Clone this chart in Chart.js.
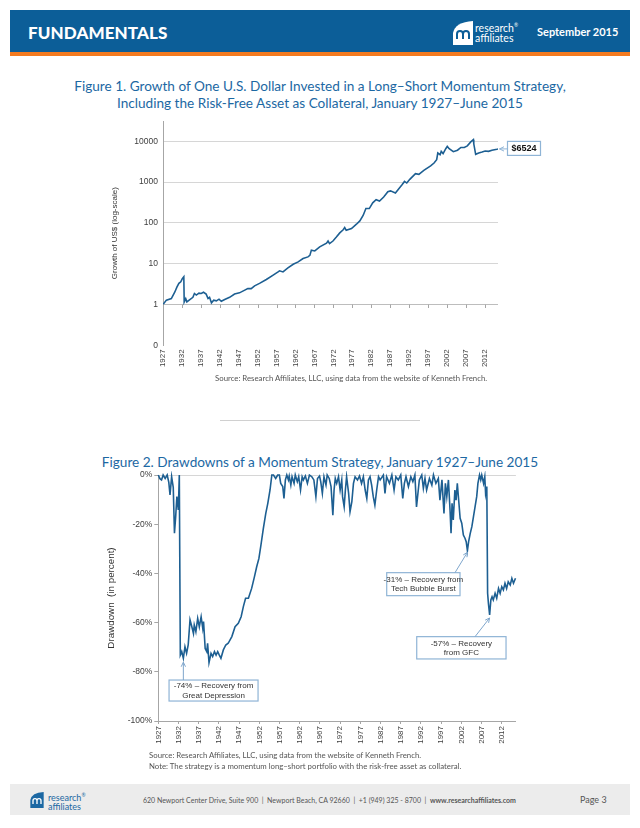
<!DOCTYPE html>
<html>
<head>
<meta charset="utf-8">
<script src="https://cdn.jsdelivr.net/npm/chart.js@4.4.0/dist/chart.umd.min.js"></script>
<style>
  html, body { margin: 0; padding: 0; background: #fff; }
  #page { position: relative; width: 640px; height: 828px; overflow: hidden; font-family: Lato, "Open Sans", sans-serif; }
  .abs { position: absolute; }
  #hdr { left: 10px; top: 10px; width: 620px; height: 42px; background: #0c5e98; }
  #hdrline { left: 10px; top: 52px; width: 620px; height: 4px; background: #f47b20; }
  #fund { left: 28px; top: 22px; color: #fff; font-weight: 900; font-size: 17px; letter-spacing: 0.1px; }
  #hlogo { left: 453px; top: 21px; }
  #htext { left: 475px; top: 20px; color: #fff; font-size: 10.5px; line-height: 10px; }
  #hdate { left: 537px; top: 25px; color: #fff; font-size: 11px; font-weight: 700; }
  .ftitle { left: 0; width: 640px; text-align: center; color: #1c68a3; font-size: 13.6px; line-height: 17px; }
  .src { color: #555; font-size: 7.8px; line-height: 11px; }
  #sep { left: 220px; top: 420px; width: 200px; height: 1px; background: #d0d0d0; }
  #foot { left: 10px; top: 784px; width: 620px; height: 31px; background: #ececec; }
  #flogo { left: 28px; top: 792px; }
  #ftext { left: 48px; top: 791px; color: #1c68a3; font-size: 9px; line-height: 8.5px; }
  #faddr { left: 143px; top: 796px; color: #555; font-size: 7px; white-space: nowrap; }
  #fpage { left: 580px; top: 794px; color: #555; font-size: 9px; }
  canvas { position: absolute; }
</style>
</head>
<body>
<div id="page">
  <div id="hdr" class="abs"></div>
  <div id="hdrline" class="abs"></div>
  <div id="fund" class="abs">FUNDAMENTALS</div>
  <svg id="hlogo" class="abs" width="20" height="24" viewBox="0 0 20 24">
    <path d="M0,24 L0,12 Q2,1 20,0 L20,24 Z" fill="#fff"/>
    <path d="M4,18 L4,13 Q4,10 7,10 Q10,10 10,13 L10,18 M10,13 Q10,10 13,10 Q16,10 16,13 L16,18" stroke="#0c5e98" stroke-width="2" fill="none"/>
  </svg>
  <div id="htext" class="abs">research<sup style="font-size:5px">®</sup><br>affiliates</div>
  <div id="hdate" class="abs">September 2015</div>

  <div class="abs ftitle" style="top:78px;">Figure 1. Growth of One U.S. Dollar Invested in a Long–Short Momentum Strategy,<br>Including the Risk-Free Asset as Collateral, January 1927–June 2015</div>

  <canvas id="c1" width="466" height="266" style="left:104px;top:110px;width:466px;height:266px;"></canvas>

  <div class="abs src" style="left:215px;top:373px;">Source: Research Affiliates, LLC, using data from the website of Kenneth French.</div>
  <div id="sep" class="abs"></div>

  <div class="abs ftitle" style="top:454px;">Figure 2. Drawdowns of a Momentum Strategy, January 1927–June 2015</div>

  <canvas id="c2" width="440" height="290" style="left:90px;top:465px;width:440px;height:290px;"></canvas>

  <div class="abs src" style="left:149px;top:750px;">Source: Research Affiliates, LLC, using data from the website of Kenneth French.<br>Note: The strategy is a momentum long–short portfolio with the risk-free asset as collateral.</div>

  <div id="foot" class="abs"></div>
  <svg id="flogo" class="abs" width="18" height="16" viewBox="0 0 20 24">
    <path d="M0,24 L0,12 Q2,1 20,0 L20,24 Z" fill="#1c68a3"/>
    <path d="M4,18 L4,13 Q4,10 7,10 Q10,10 10,13 L10,18 M10,13 Q10,10 13,10 Q16,10 16,13 L16,18" stroke="#fff" stroke-width="2" fill="none"/>
  </svg>
  <div id="ftext" class="abs">research<sup style="font-size:5px">®</sup><br>affiliates</div>
  <div id="faddr" class="abs">620 Newport Center Drive, Suite 900 &nbsp;|&nbsp; Newport Beach, CA 92660 &nbsp;|&nbsp; +1 (949) 325 - 8700 &nbsp;|&nbsp; <b>www.researchaffiliates.com</b></div>
  <div id="fpage" class="abs">Page 3</div>
</div>

<script>
// ---------- Data ----------
const yearTicks = [1927, 1932, 1937, 1942, 1947, 1952, 1957, 1962, 1967, 1972, 1977, 1982, 1987, 1992, 1997, 2002, 2007, 2012];

// Figure 1: growth of $1 (log scale)
const growthYears = [1927.0, 1927.9, 1929.2, 1930.1, 1930.7, 1931.2, 1931.7, 1932.1, 1932.5, 1932.6, 1933.0, 1933.3, 1934.0, 1934.9, 1935.3, 1935.8, 1936.5, 1937.1, 1937.7, 1938.4, 1938.9, 1939.3, 1939.8, 1940.4, 1941.1, 1941.8, 1942.4, 1943.3, 1944.6, 1945.9, 1947.2, 1948.6, 1949.4, 1950.3, 1951.2, 1952.5, 1954.3, 1956.0, 1957.4, 1957.8, 1958.7, 1960.0, 1961.4, 1962.7, 1964.0, 1965.3, 1965.8, 1966.2, 1967.1, 1968.4, 1970.2, 1970.6, 1971.0, 1971.9, 1972.8, 1973.7, 1974.6, 1975.0, 1975.4, 1976.8, 1978.1, 1979.0, 1979.9, 1980.6, 1981.5, 1982.4, 1983.3, 1984.2, 1985.3, 1986.4, 1987.1, 1988.4, 1989.3, 1990.2, 1990.8, 1991.4, 1992.2, 1993.7, 1994.6, 1995.9, 1997.7, 1998.6, 1999.3, 1999.6, 2000.2, 2000.5, 2001.0, 2001.7, 2002.1, 2002.6, 2003.7, 2004.8, 2005.7, 2006.6, 2007.4, 2008.3, 2009.0, 2009.1, 2009.6, 2010.4, 2011.3, 2012.1, 2013.0, 2013.9, 2015.2, 2015.5];
const growthValues = [1.0, 1.28, 1.4, 2.0, 2.7, 3.3, 3.6, 4.3, 4.8, 1.16, 1.4, 1.16, 1.3, 1.5, 1.86, 1.7, 1.9, 1.86, 2.0, 1.8, 1.4, 1.5, 1.1, 1.28, 1.23, 1.35, 1.2, 1.33, 1.5, 1.8, 1.93, 2.25, 2.45, 2.45, 2.86, 3.3, 4.1, 5.2, 6.3, 6.7, 6.3, 7.9, 9.7, 11.1, 13.4, 14.7, 16, 21.5, 20.6, 25.8, 32, 36, 31, 36, 45, 57, 68, 77, 66, 73, 93, 112, 154, 225, 225, 310, 370, 345, 430, 580, 610, 540, 690, 870, 1040, 950, 1170, 1610, 1550, 1940, 2490, 2940, 3540, 5170, 4710, 5670, 5000, 6600, 7500, 6600, 5580, 6050, 7070, 7070, 7750, 9700, 11000, 8700, 4800, 5170, 5480, 5800, 5670, 6050, 6400, 6524];
const logTicks = [0.1, 1, 10, 100, 1000, 10000];
const logTickLabels = ['0', '1', '10', '100', '1000', '10000'];

// Figure 2: drawdowns (percent)
const ddYears = [1927.0, 1927.4, 1927.8, 1928.2, 1928.7, 1929.2, 1929.6, 1929.9, 1930.3, 1930.7, 1931.0, 1931.3, 1931.6, 1931.95, 1932.2, 1932.45, 1932.8, 1933.2, 1933.6, 1934.0, 1934.4, 1934.85, 1935.3, 1935.7, 1935.9, 1936.3, 1936.75, 1937.15, 1937.6, 1938.0, 1938.2, 1938.6, 1939.0, 1939.2, 1939.55, 1940.05, 1940.45, 1940.9, 1941.3, 1941.7, 1942.1, 1942.5, 1943.1, 1943.7, 1944.3, 1945.2, 1946.0, 1946.8, 1947.5, 1948.05, 1948.6, 1949.3, 1950.1, 1950.8, 1951.35, 1951.9, 1952.4, 1953.0, 1953.6, 1954.1, 1954.65, 1955.1, 1955.5, 1956.05, 1956.3, 1956.55, 1956.96, 1957.3, 1957.8, 1958.1, 1958.45, 1958.8, 1959.2, 1959.4, 1959.8, 1960.1, 1960.6, 1960.9, 1961.4, 1961.75, 1962.2, 1962.6, 1962.9, 1963.4, 1963.9, 1964.4, 1965.0, 1965.5, 1966.0, 1966.4, 1966.9, 1967.2, 1967.6, 1968.0, 1968.5, 1968.8, 1969.3, 1969.75, 1970.2, 1970.5, 1970.8, 1971.15, 1971.6, 1972.0, 1972.4, 1972.6, 1973.0, 1973.3, 1973.6, 1974.1, 1974.45, 1974.9, 1975.3, 1975.7, 1976.3, 1976.8, 1977.3, 1977.75, 1978.2, 1978.6, 1979.0, 1979.4, 1979.8, 1980.2, 1980.6, 1981.05, 1981.5, 1981.9, 1982.7, 1983.1, 1983.5, 1984.2, 1984.8, 1985.35, 1985.8, 1986.4, 1987.0, 1987.5, 1987.9, 1988.3, 1988.9, 1989.5, 1990.0, 1990.5, 1990.9, 1991.6, 1992.2, 1992.6, 1993.0, 1993.4, 1994.1, 1994.7, 1995.1, 1995.7, 1996.3, 1996.7, 1997.2, 1997.7, 1998.05, 1998.4, 1998.8, 1999.2, 1999.45, 1999.7, 2000.0, 2000.4, 2000.7, 2001.0, 2001.4, 2001.7, 2002.1, 2002.5, 2002.9, 2003.2, 2003.5, 2003.8, 2004.2, 2004.6, 2005.0, 2005.4, 2005.8, 2006.1, 2006.5, 2006.8, 2007.05, 2007.5, 2007.8, 2008.0, 2008.3, 2008.5, 2008.7, 2009.0, 2009.3, 2009.6, 2009.9, 2010.35, 2010.75, 2011.2, 2011.6, 2012.0, 2012.4, 2012.8, 2013.2, 2013.6, 2014.1, 2014.5, 2014.9, 2015.4];
const ddValues = [0, -1.5, -2.0, 0, -1.4, 0, -3, -8.1, -0.7, -5, -23.7, -16.9, -8.8, -14.2, 0, -73.2, -71.8, -74.5, -69.8, -72.5, -69.1, -58.9, -61.7, -64.4, -61, -63.7, -58.3, -61.7, -57.6, -62.3, -59.6, -70.5, -71.8, -68.4, -76.3, -72.5, -73.8, -71.8, -73.2, -71.8, -73.2, -74.5, -71.1, -69.1, -68.4, -65.7, -61.7, -60.3, -57.6, -53.5, -50.1, -50.1, -46.1, -41.3, -37.3, -33.9, -28.5, -21.7, -15.6, -11.5, -6.1, 0, 0, -1.4, -0.7, 0, 0, -3.4, -4.7, -9.5, -2.0, 0, -2.0, -0.4, -4.1, -0.7, -3.4, 0, -2.7, -0.7, -6.1, -0.7, -2.0, -0.4, -3.4, 0, -0.7, -2.0, -8.8, -1.4, -0.4, -2.7, -7.5, -0.7, -4.1, 0, -1.4, -4.7, -16.3, -6.1, -1.4, -3.4, -0.7, -6.1, -2.0, -8.8, -12.9, -6.1, -0.7, -7.5, -14.9, -10.8, -3.4, -0.7, -2.0, -0.4, -3.4, -0.7, -6.1, -9.5, -2.0, -0.7, -4.1, -8.8, -12.2, -6.1, -0.7, -2.0, 0, -7.5, -0.7, -3.4, 0, -6.1, -0.7, -2.0, 0, -9.5, -3.4, -0.7, -4.7, -0.7, -2.7, 0, -13, -2.0, 0, -5.4, -1.4, -6.1, -1.4, -4.1, 0, -3.4, -1.4, -10.2, -2.0, -15.6, -3.4, -8.8, -2.0, -14.2, -23.7, -11.5, -18.3, -6.1, -10.2, -3.4, -11.5, -17.6, -19.6, -24.4, -25.7, -27.1, -30.8, -27.1, -23.7, -21, -16.9, -12.9, -8.8, -3.4, 0, -2.0, 0, -3.4, -0.7, -7.5, -4.7, -48.1, -52.2, -56.9, -50.8, -49.5, -50.8, -48.1, -50.1, -46.1, -48.1, -45.4, -46.7, -44.0, -46.1, -43.4, -44.7, -42.0, -44.0, -42.0];
const ddTicks = [0, -20, -40, -60, -80, -100];

// Annotations: data point (year, percent) and label text
const ddNotes = [
  { year: 1933.2, pct: -75.5, lines: ['-74% – Recovery from', 'Great Depression'] },
  { year: 2003.5, pct: -30.8, lines: ['-31% – Recovery from', 'Tech Bubble Burst'] },
  { year: 2009.0, pct: -57.5, lines: ['-57% – Recovery', 'from GFC'] }
];

// ---------- Styles ----------
const LINE = '#1d5f92';
const AXF = 'Liberation Sans, Arial, sans-serif';
const TICKC = '#404040';
// pixel layout of annotation boxes relative to their data points: [dx, dy, w, h, arrowStartDx]
const noteLayout = [
  [-14.3, 19.3, 89, 21, 0],
  [-80.7, 21.9, 73.3, 23, -12.4],
  [-72.9, 20.2, 89.3, 22.3, -14.6]
];

function arrow(ctx, x0, y0, x1, y1, color) {
  ctx.save();
  ctx.strokeStyle = color; ctx.lineWidth = 1;
  ctx.beginPath(); ctx.moveTo(x0, y0); ctx.lineTo(x1, y1); ctx.stroke();
  const a = Math.atan2(y1 - y0, x1 - x0), L = 5, w = 0.45;
  ctx.beginPath();
  ctx.moveTo(x1 - L * Math.cos(a - w), y1 - L * Math.sin(a - w));
  ctx.lineTo(x1, y1);
  ctx.lineTo(x1 - L * Math.cos(a + w), y1 - L * Math.sin(a + w));
  ctx.stroke();
  ctx.restore();
}

// Figure 1 plugin: tick marks on the axis at 1 and the end-value callout
const fig1Extras = {
  id: 'fig1Extras',
  afterDraw(chart) {
    const ctx = chart.ctx, xs = chart.scales.x, ys = chart.scales.y;
    const y1 = ys.getPixelForValue(1);
    ctx.save();
    ctx.strokeStyle = '#a6a6a6'; ctx.lineWidth = 1;
    yearTicks.forEach(v => {
      const x = Math.round(xs.getPixelForValue(v)) + 0.5;
      ctx.beginPath(); ctx.moveTo(x, y1); ctx.lineTo(x, y1 + 3.5); ctx.stroke();
    });
    const n = growthYears.length - 1;
    const px = xs.getPixelForValue(growthYears[n]);
    const py = ys.getPixelForValue(growthValues[n]);
    const bx = px + 9.5, bw = 33, bh = 14, by = py - 7.5;
    ctx.fillStyle = '#fff';
    ctx.fillRect(bx, by, bw, bh);
    ctx.strokeStyle = '#8fb4d6'; ctx.lineWidth = 1.2;
    ctx.strokeRect(bx, by, bw, bh);
    ctx.fillStyle = '#111';
    ctx.font = 'bold 9px ' + AXF;
    ctx.textAlign = 'center'; ctx.textBaseline = 'middle';
    ctx.fillText('$' + growthValues[n], bx + bw / 2, by + bh / 2 + 0.5);
    ctx.restore();
    arrow(ctx, bx, py, px + 1.5, py, '#8fb4d6');
  }
};

// Figure 2 plugin: annotation boxes with arrows
const fig2Notes = {
  id: 'fig2Notes',
  afterDraw(chart) {
    const ctx = chart.ctx, xs = chart.scales.x, ys = chart.scales.y;
    ddNotes.forEach((n, i) => {
      const [dx, dy, w, h, ax] = noteLayout[i];
      const px = xs.getPixelForValue(n.year), py = ys.getPixelForValue(n.pct);
      const bx = px + dx, by = py + dy;
      ctx.save();
      ctx.fillStyle = '#fff'; ctx.fillRect(bx, by, w, h);
      ctx.strokeStyle = '#8fb4d6'; ctx.lineWidth = 1.2; ctx.strokeRect(bx, by, w, h);
      ctx.fillStyle = '#333'; ctx.font = '8px ' + AXF;
      ctx.textAlign = 'center'; ctx.textBaseline = 'middle';
      ctx.fillText(n.lines[0], bx + w / 2, by + h / 2 - 4.5);
      ctx.fillText(n.lines[1], bx + w / 2, by + h / 2 + 5);
      ctx.restore();
      arrow(ctx, px + ax, by, px, py + 1.5, '#7fa6cc');
    });
  }
};

const setYearTicks = s => { s.ticks = yearTicks.map(v => ({ value: v })); };

// ---------- Figure 1 ----------
new Chart(document.getElementById('c1'), {
  type: 'line',
  data: { datasets: [{
    data: growthYears.map((x, i) => ({ x, y: growthValues[i] })),
    borderColor: LINE, borderWidth: 1.6, pointRadius: 0, tension: 0, fill: false
  }] },
  options: {
    responsive: false, animation: false,
    layout: { padding: { left: 6, top: 11, right: 72, bottom: 0 } },
    plugins: { legend: { display: false }, tooltip: { enabled: false } },
    scales: {
      x: {
        type: 'linear', min: 1927, max: 2015.5,
        afterBuildTicks: setYearTicks,
        afterFit: s => { s.height = 30.7; },
        grid: { display: false, drawTicks: false },
        border: { display: false },
        ticks: { autoSkip: false, minRotation: 90, maxRotation: 90, padding: 4, color: TICKC,
                 font: { family: AXF, size: 8 }, callback: v => String(v) }
      },
      y: {
        type: 'logarithmic', min: 0.1, max: 31500,
        afterBuildTicks: s => { s.ticks = logTicks.map(v => ({ value: v })); },
        afterFit: s => { s.width = 53; },
        grid: { drawTicks: false, lineWidth: 1,
                color: c => (c.tick && c.tick.value === 0.1) ? 'rgba(0,0,0,0)' : (c.tick && c.tick.value === 1 ? '#bdbdbd' : '#d6d6d6') },
        border: { display: true, color: '#a6a6a6' },
        ticks: { padding: 5, color: TICKC, font: { family: AXF, size: 8.5 },
                 callback: v => logTickLabels[logTicks.indexOf(v)] },
        title: { display: true, text: 'Growth of US$ (log-scale)', color: '#333',
                 font: { family: AXF, size: 8 }, padding: 0 }
      }
    }
  },
  plugins: [fig1Extras]
});

// ---------- Figure 2 ----------
new Chart(document.getElementById('c2'), {
  type: 'line',
  data: { datasets: [{
    data: ddYears.map((x, i) => ({ x, y: ddValues[i] })),
    borderColor: LINE, borderWidth: 1.6, pointRadius: 0, tension: 0, fill: false, clip: 4
  }] },
  options: {
    responsive: false, animation: false,
    layout: { padding: { left: 15, top: 10, right: 14.1, bottom: 0 } },
    plugins: { legend: { display: false }, tooltip: { enabled: false } },
    scales: {
      x: {
        type: 'linear', min: 1927, max: 2015.5,
        afterBuildTicks: setYearTicks,
        afterFit: s => { s.height = 34; },
        grid: { drawOnChartArea: false, tickLength: 3, tickColor: '#a6a6a6' },
        border: { display: true, color: '#a6a6a6' },
        ticks: { autoSkip: false, minRotation: 90, maxRotation: 90, padding: 2, color: TICKC,
                 font: { family: AXF, size: 8 }, callback: v => String(v) }
      },
      y: {
        type: 'linear', min: -100, max: 0,
        afterBuildTicks: s => { s.ticks = ddTicks.map(v => ({ value: v })); },
        afterFit: s => { s.width = 53.3; },
        grid: { tickLength: 4, tickColor: '#a6a6a6',
                color: c => (c.tick && c.tick.value === 0) ? '#d6d6d6' : 'rgba(0,0,0,0)' },
        border: { display: true, color: '#a6a6a6' },
        ticks: { padding: 2, color: TICKC, font: { family: AXF, size: 8.5 }, callback: v => v + '%' },
        title: { display: true, text: 'Drawdown  (in percent)', color: '#333',
                 font: { family: AXF, size: 9.8 }, padding: 0 }
      }
    }
  },
  plugins: [fig2Notes]
});
</script>
</body>
</html>
